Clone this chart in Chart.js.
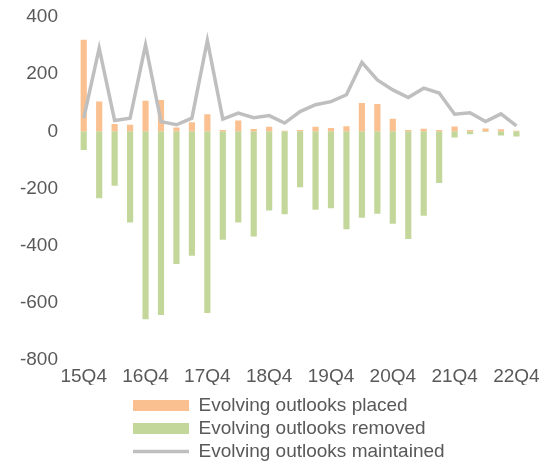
<!DOCTYPE html>
<html>
<head>
<meta charset="utf-8">
<script src="https://cdn.jsdelivr.net/npm/chart.js@4.4.2/dist/chart.umd.min.js"></script>
<style>
  html, body { margin: 0; padding: 0; background: #fff; }
  #wrap { width: 545px; height: 464px; }
</style>
</head>
<body>
<div id="wrap"><canvas id="outlooks-chart"></canvas></div>
<script>
// Trimestres 15Q4 -> 22Q4
const quarters = [
  '15Q4', '16Q1', '16Q2', '16Q3', '16Q4', '17Q1', '17Q2', '17Q3', '17Q4',
  '18Q1', '18Q2', '18Q3', '18Q4', '19Q1', '19Q2', '19Q3', '19Q4',
  '20Q1', '20Q2', '20Q3', '20Q4', '21Q1', '21Q2', '21Q3', '21Q4',
  '22Q1', '22Q2', '22Q3', '22Q4'
];
const placed = [320, 104, 26, 23, 107, 110, 13, 32, 60, 5, 38, 8, 16, 2, 5, 16, 12, 18, 99, 96, 44, 5, 9, 5, 17, 5, 10, 7, 2];
const removed = [-65, -234, -190, -319, -657, -643, -464, -435, -636, -379, -319, -368, -277, -290, -196, -274, -269, -343, -302, -288, -323, -377, -295, -181, -22, -10, -2, -15, -18];
const maintained = [46, 291, 38, 46, 302, 34, 23, 46, 318, 43, 64, 48, 55, 29, 69, 93, 104, 128, 241, 180, 145, 118, 151, 134, 60, 65, 34, 61, 19];
const yMin = -800;
const yMax = 400;
const yStep = 200;

const textColor = '#595959';
const fontFamily = '"Liberation Sans", Arial, sans-serif';

// Décale la légende pour l'aligner à gauche comme l'original
const legendOffset = {
  id: 'legendOffset',
  afterLayout(chart) {
    const lg = chart.legend;
    const dx = 129 - lg.left;
    const dy = 392 - lg.top;
    lg.left += dx; lg.right += dx;
    lg.top += dy; lg.bottom += dy;
  }
};

const ctx = document.getElementById('outlooks-chart');
new Chart(ctx, {
  data: {
    labels: quarters,
    datasets: [
      {
        type: 'line',
        label: 'Evolving outlooks maintained',
        data: maintained,
        borderColor: '#BFBFBF',
        backgroundColor: '#BFBFBF',
        borderWidth: 3.5,
        pointRadius: 0,
        tension: 0,
        stack: 'line',
        order: 0
      },
      {
        type: 'bar',
        label: 'Evolving outlooks placed',
        data: placed,
        backgroundColor: '#FAC090',
        borderWidth: 0,
        stack: 'bars',
        order: 1
      },
      {
        type: 'bar',
        label: 'Evolving outlooks removed',
        data: removed,
        backgroundColor: '#C4D79B',
        borderWidth: 0,
        stack: 'bars',
        order: 1
      }
    ]
  },
  options: {
    responsive: true,
    maintainAspectRatio: false,
    animation: false,
    categoryPercentage: 0.8,
    barPercentage: 0.5,
    layout: { padding: { top: 17, right: 19, left: 0, bottom: 0 } },
    plugins: {
      tooltip: { enabled: false },
      legend: {
        position: 'bottom',
        align: 'start',
        labels: {
          color: textColor,
          font: { family: fontFamily, size: 19 },
          usePointStyle: true,
          pointStyleWidth: 56,
          boxHeight: 11,
          padding: 4,
          generateLabels(chart) {
            const items = Chart.defaults.plugins.legend.labels.generateLabels(chart);
            items.sort((a, b) => b.datasetIndex - a.datasetIndex);
            items.forEach(it => {
              it.pointStyle = it.datasetIndex === 0 ? 'line' : 'rect';
              if (it.datasetIndex !== 0) it.lineWidth = 0;
            });
            // placed, removed, maintained
            return [items[1], items[0], items[2]];
          }
        }
      }
    },
    scales: {
      x: {
        stacked: true,
        grid: { display: false, drawTicks: false },
        border: { display: false },
        ticks: {
          color: textColor,
          font: { family: fontFamily, size: 19 },
          padding: 5,
          autoSkip: false,
          maxRotation: 0,
          callback(value, index) {
            return index % 4 === 0 ? quarters[index] : '';
          }
        },
        afterFit(scale) { scale.height = 25; }
      },
      y: {
        stacked: true,
        min: yMin,
        max: yMax,
        grid: { display: false, drawTicks: false },
        border: { display: false },
        ticks: {
          stepSize: yStep,
          color: textColor,
          font: { family: fontFamily, size: 19 },
          padding: 18
        },
        afterFit(scale) {
          scale.width = 76;
          scale.paddingTop = 0;
          scale.paddingBottom = 0;
        }
      }
    }
  },
  plugins: [legendOffset]
});
</script>
</body>
</html>
